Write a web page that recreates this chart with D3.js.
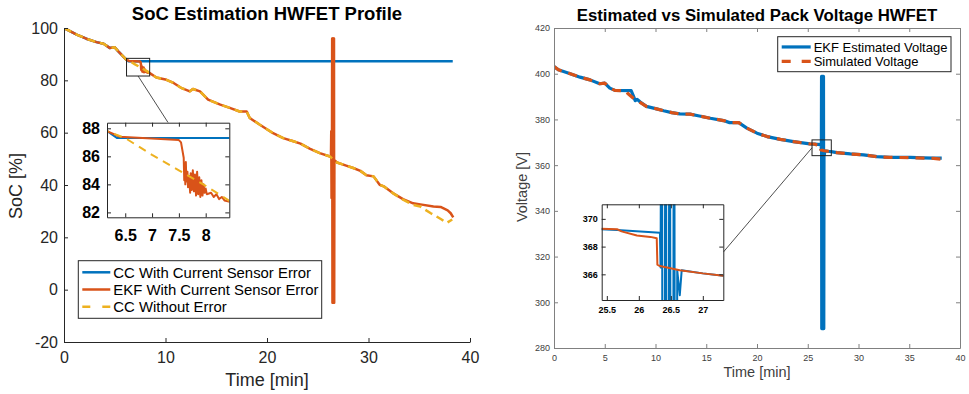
<!DOCTYPE html>
<html>
<head>
<meta charset="utf-8">
<title>SoC and Pack Voltage HWFET</title>
<script src="https://cdn.jsdelivr.net/npm/d3@7"></script>
<style>
    html {font-family: "Liberation Sans", Arial, sans-serif;}
    body {margin: 0; padding: 0; background: #fff; overflow: hidden;}
    svg {display: block;}
</style>
</head>
<body>
<div id="chart"></div>
<script>
// values, [time in min, value]
var socStart = [[0,100],[1.25,97.5],[2.2,95.9],[3.2,94.6],[3.9,94],[4.5,92.4],[5.0,92.6],[5.35,91.1],[6.16,87.8]];

var ccErr = [[6.35,87.3],[38.3,87.3]];

var ekfErr = [[6.4,87.4],[7.5,87.16],[7.54,87.0],[7.59,85.9],[7.6,84.3],[7.61,85.2],[7.62,84.0],[7.63,85.6],
    [7.64,84.2],[7.66,84.9],[7.67,83.8],[7.69,84.6],[7.71,83.4],[7.72,84.8],[7.74,83.6],[7.76,85.0],[7.78,83.5],
    [7.8,84.7],[7.82,83.2],[7.84,84.9],[7.86,83.3],[7.88,84.5],[7.9,83.1],[7.92,84.3],[7.94,83.2],[7.96,84.0],
    [7.98,83.4],[8.0,83.7],[8.02,83.3],[8.1,83.4],[8.15,83.1],[8.2,83.3],[8.25,82.95],[8.3,83.1],[8.35,82.85],
    [8.45,82.75],[9.1,81.1],[10.1,80.2],[10.8,79],[11.6,77],[12.4,75.8],[12.7,76.7],[13.4,75.8],[14.2,72.6],
    [15.4,70.7],[16.4,69.4],[17.3,68.1],[18.0,68.1],[18.3,65.6],[19.3,63],[20.6,59.8],[21.6,57.9],[22.6,56.7],
    [23.3,55.8],[24.2,53.9],[25.2,52.2],[26.2,50.9],[26.3,50.6],[26.33,60.5],[26.36,35],[26.4,50.3],[26.42,96],
    [26.45,-5],[26.48,96],[26.51,-5],[26.54,96],[26.57,-5],[26.6,96],[26.62,-5],[26.64,49.5],[26.9,48.6],[27.8,47.4],
    [28.5,46.5],[29.2,45.4],[29.8,43.7],[30.5,43.3],[31.1,40.1],[31.5,39.5],[32.4,36.9],[33.4,34.6],[34.4,33.0],
    [35.1,32.6],[36.4,31.8],[37.1,31.6],[37.8,30.3],[38.1,29.2],[38.35,27.6]];

var ccNoErr = [[6.5,87.3],[7.0,86.1],[7.5,85.0],[8.0,83.9],[8.45,82.8],[9.1,81.1],[10.1,80.2],[10.8,79],[11.6,77],
    [12.4,75.8],[12.7,76.7],[13.4,75.8],[14.2,72.6],[15.4,70.7],[16.4,69.4],[17.3,68.1],[18.0,68.1],[18.3,65.6],
    [19.3,63],[20.6,59.8],[21.6,57.9],[22.6,56.7],[23.3,55.8],[24.2,53.9],[25.2,52.2],[26.2,50.9],[26.9,48.6],
    [27.8,47.4],[28.5,46.5],[29.2,45.4],[29.8,43.7],[30.5,43.3],[31.1,40.1],[31.5,39.5],[32.4,36.9],[33.4,34.4],
    [34.4,32.4],[35.1,31.8],[35.6,30.5],[36.1,29.3],[36.6,28.2],[37.2,26.8],[37.7,25.5],[38.25,26.8]];

var voltStart = [[0,403.2],[0.43,401.7],[1.6,400],[2.56,398.5],[3.55,397.3],[4.5,395.6],[5.0,395.9],[5.5,393.7],[6.0,392.7]];

var voltSim = [[7.1,392.5],[7.3,391.2],[7.9,389.0],[8.15,388.4],[9.1,385.7],[10.1,384.6],[10.8,383.8],[11.6,383],
    [12.4,382.4],[13.4,382.3],[14.2,381.6],[15.4,380.5],[16.7,379.5],[17.3,378.6],[18.2,378.6],[19,376.2],[20,374],
    [21,372.5],[22.3,371.3],[23.6,370.3],[25.2,369.3],[25.66,369.26],[25.73,369.1],[25.97,368.8],[26.18,368.7],
    [26.28,368.6],[26.29,366.7],[26.33,366.6],[26.64,366.3],[27.0,366.07],[27.32,365.9],[27.85,365.5],[29.2,364.9],
    [30.5,364.5],[31.8,363.7],[33.1,363.4],[35.1,363.3],[36.4,363.1],[37.4,363.0],[38.2,362.6]];

var voltEkf = [[7.6,392.6],[7.8,390.5],[8.0,388.2],[8.2,388.8],[8.5,387.6],[9.1,385.7],[10.1,384.6],[10.8,383.8],
    [11.6,383],[12.4,382.4],[13.4,382.3],[14.2,381.6],[15.4,380.5],[16.7,379.5],[17.3,378.6],[18.2,378.6],[19,376.2],
    [20,374],[21,372.5],[22.3,371.3],[23.6,370.3],[25.2,369.3],[25.66,369.2],[26.33,369.0],[26.34,366.5],
    [26.36,398.8],[26.38,288.5],[26.42,398.8],[26.45,288.5],[26.48,398.8],[26.52,288.5],[26.55,398.8],[26.58,288.5],
    [26.6,366.3],[26.64,364.5],[26.67,366.3],[27.0,366.07],[27.32,365.9],[27.85,365.5],[29.2,364.9],[30.5,364.5],
    [31.8,363.7],[33.1,363.4],[35.1,363.4],[36.4,363.2],[37.4,363.1],[38.2,363.1]];

var socXTicks = [0, 10, 20, 30, 40];
var socYTicks = [-20, 0, 20, 40, 60, 80, 100];
var socInXTicks = [6.5, 7, 7.5, 8];
var socInYTicks = [82, 84, 86, 88];
var voltXTicks = [0, 5, 10, 15, 20, 25, 30, 35, 40];
var voltYTicks = [280, 300, 320, 340, 360, 380, 400, 420];
var voltInXTicks = [25.5, 26, 26.5, 27];
var voltInYTicks = [366, 368, 370];

var socNames = ["CC With Current Sensor Error", "EKF With Current Sensor Error", "CC Without Error"];
var voltNames = ["EKF Estimated Voltage", "Simulated Voltage"];

var blue = "#0072BD", orange = "#D95319", yellow = "#EDB120";

var svg = d3.select("#chart").append("svg").attr("width", 969).attr("height", 394);

var clipId = 0;
function panel(x, y, o) {
    var g = svg.append("g");
    var x0 = x.range()[0], x1 = x.range()[1], y0 = y.range()[1], y1 = y.range()[0];
    if (o.fill) g.append("rect").attr("x", x0).attr("y", y0).attr("width", x1 - x0).attr("height", y1 - y0).attr("fill", "#fff");
    var id = "clip" + (clipId++);
    g.append("clipPath").attr("id", id).append("rect")
        .attr("x", x0).attr("y", y0).attr("width", x1 - x0).attr("height", y1 - y0);
    var plot = g.append("g").attr("clip-path", "url(#" + id + ")");

    var fmt = function(d) {return String(d);};
    function style(a) {
        a.selectAll("text").attr("font-size", o.font).attr("font-weight", o.bold ? "bold" : null)
            .attr("fill", o.text).attr("font-family", "Liberation Sans, Arial, sans-serif");
        a.selectAll("line,path").attr("stroke", o.line);
    }
    g.append("g").attr("transform", "translate(0," + y1 + ")")
        .call(d3.axisBottom(x).tickValues(o.xt).tickFormat(fmt).tickSize(-4).tickSizeOuter(0).tickPadding(o.px))
        .call(style);
    g.append("g").attr("transform", "translate(" + x0 + ",0)")
        .call(d3.axisLeft(y).tickValues(o.yt).tickFormat(fmt).tickSize(-4).tickSizeOuter(0).tickPadding(o.py))
        .call(style);
    if (o.box) {
        g.append("g").attr("transform", "translate(0," + y0 + ")")
            .call(d3.axisTop(x).tickValues(o.xt).tickFormat("").tickSize(-4).tickSizeOuter(0)).call(style);
        g.append("g").attr("transform", "translate(" + x1 + ",0)")
            .call(d3.axisRight(y).tickValues(o.yt).tickFormat("").tickSize(-4).tickSizeOuter(0)).call(style);
    }
    g.selectAll(".domain").attr("stroke-width", 1);
    return plot;
}

function draw(plot, x, y, data, color, w, dash) {
    var line = d3.line().x(function(d) {return x(d[0]);}).y(function(d) {return y(d[1]);});
    plot.append("path").datum(data).attr("d", line).attr("fill", "none")
        .attr("stroke", color).attr("stroke-width", w).attr("stroke-dasharray", dash || null)
        .attr("stroke-linejoin", "round");
}

function legend(x, y, w, h, names, styles, font) {
    var g = svg.append("g");
    g.append("rect").attr("x", x).attr("y", y).attr("width", w).attr("height", h)
        .attr("fill", "#fff").attr("stroke", "#262626").attr("stroke-width", 1);
    var step = (h - 6) / names.length;
    names.forEach(function(n, i) {
        var cy = y + 3 + step * (i + 0.5);
        var s = styles[i];
        g.append("line").attr("x1", x + 4).attr("x2", x + 4 + s.len).attr("y1", cy).attr("y2", cy)
            .attr("stroke", s.color).attr("stroke-width", s.w).attr("stroke-dasharray", s.dash || null);
        g.append("text").attr("x", x + 7 + s.len).attr("y", cy).attr("dy", "0.35em")
            .attr("font-size", font).attr("fill", "#000").text(n);
    });
}

// ---------- left: SoC ----------
var xSoc = d3.scaleLinear().domain([0, 40]).range([64, 470]);
var ySoc = d3.scaleLinear().domain([-20, 100]).range([342, 28]);
var pSoc = panel(xSoc, ySoc, {xt: socXTicks, yt: socYTicks, font: 16, text: "#262626", line: "#262626", px: 10, py: 6, box: false});
draw(pSoc, xSoc, ySoc, socStart.concat(ccErr), blue, 2.5);
draw(pSoc, xSoc, ySoc, socStart.concat(ekfErr), orange, 2.5);
draw(pSoc, xSoc, ySoc, socStart.concat(ccNoErr), yellow, 2.5, "8,5");

svg.append("text").attr("x", 267).attr("y", 20).attr("text-anchor", "middle")
    .attr("font-size", 18.5).attr("font-weight", "bold").text("SoC Estimation HWFET Profile");
svg.append("text").attr("x", 267).attr("y", 386).attr("text-anchor", "middle")
    .attr("font-size", 18).attr("fill", "#262626").text("Time [min]");
svg.append("text").attr("transform", "translate(22,186) rotate(-90)").attr("text-anchor", "middle")
    .attr("font-size", 18).attr("fill", "#262626").text("SoC [%]");

// zoom box + inset
var xSocIn = d3.scaleLinear().domain([6.16, 8.44]).range([107, 229.3]);
var ySocIn = d3.scaleLinear().domain([81.65, 88.4]).range([217.3, 122.7]);
svg.append("rect").attr("x", xSoc(6.16)).attr("y", ySoc(88.4))
    .attr("width", xSoc(8.44) - xSoc(6.16)).attr("height", ySoc(81.65) - ySoc(88.4))
    .attr("fill", "none").attr("stroke", "#222").attr("stroke-width", 1);
svg.append("line").attr("x1", xSoc(7.3)).attr("y1", ySoc(81.65)).attr("x2", xSocIn(7.3)).attr("y2", ySocIn(88.4))
    .attr("stroke", "#222").attr("stroke-width", 0.8);
var pSocIn = panel(xSocIn, ySocIn, {xt: socInXTicks, yt: socInYTicks, font: 16, bold: true, text: "#000", line: "#262626", px: 12, py: 7, box: true, fill: true});
draw(pSocIn, xSocIn, ySocIn, socStart.concat(ccErr), blue, 2);
draw(pSocIn, xSocIn, ySocIn, socStart.concat(ekfErr), orange, 2);
draw(pSocIn, xSocIn, ySocIn, socStart.concat(ccNoErr), yellow, 2, "8,6");

legend(78.3, 260.7, 243.4, 57.6, socNames,
    [{color: blue, w: 2.5, len: 28}, {color: orange, w: 2.5, len: 28}, {color: yellow, w: 2.5, len: 28, dash: "8,12"}], 14.9);

// ---------- right: pack voltage ----------
var xV = d3.scaleLinear().domain([0, 40]).range([554, 960]);
var yV = d3.scaleLinear().domain([280, 420]).range([348, 28]);
var pV = panel(xV, yV, {xt: voltXTicks, yt: voltYTicks, font: 9, text: "#404040", line: "#808080", px: 7, py: 4, box: true});
draw(pV, xV, yV, voltStart.concat(voltEkf), blue, 3.2);
draw(pV, xV, yV, voltStart.concat(voltSim), orange, 3.2, "9,7");

svg.append("text").attr("x", 757).attr("y", 21).attr("text-anchor", "middle")
    .attr("font-size", 16.8).attr("font-weight", "bold").text("Estimated vs Simulated Pack Voltage HWFET");
svg.append("text").attr("x", 757).attr("y", 377).attr("text-anchor", "middle")
    .attr("font-size", 14.5).attr("fill", "#404040").text("Time [min]");
svg.append("text").attr("transform", "translate(527,187) rotate(-90)").attr("text-anchor", "middle")
    .attr("font-size", 14.5).attr("fill", "#404040").text("Voltage [V]");

var xVIn = d3.scaleLinear().domain([25.42, 27.32]).range([601.7, 723.3]);
var yVIn = d3.scaleLinear().domain([364.15, 371.05]).range([300, 204.3]);
svg.append("rect").attr("x", xV(25.42)).attr("y", yV(371.05))
    .attr("width", xV(27.32) - xV(25.42)).attr("height", yV(364.15) - yV(371.05))
    .attr("fill", "none").attr("stroke", "#222").attr("stroke-width", 1);
svg.append("line").attr("x1", xVIn(27.32)).attr("y1", yVIn(367.6)).attr("x2", xV(25.42)).attr("y2", yV(367.6))
    .attr("stroke", "#222").attr("stroke-width", 0.8);
var pVIn = panel(xVIn, yVIn, {xt: voltInXTicks, yt: voltInYTicks, font: 9, bold: true, text: "#000", line: "#262626", px: 7, py: 4, box: true, fill: true});
draw(pVIn, xVIn, yVIn, voltStart.concat(voltEkf), blue, 2);
draw(pVIn, xVIn, yVIn, voltStart.concat(voltSim), orange, 2);

legend(777.7, 36.7, 173.3, 35, voltNames,
    [{color: blue, w: 3.2, len: 29}, {color: orange, w: 3.2, len: 29, dash: "9,11"}], 13);
</script>
</body>
</html>
